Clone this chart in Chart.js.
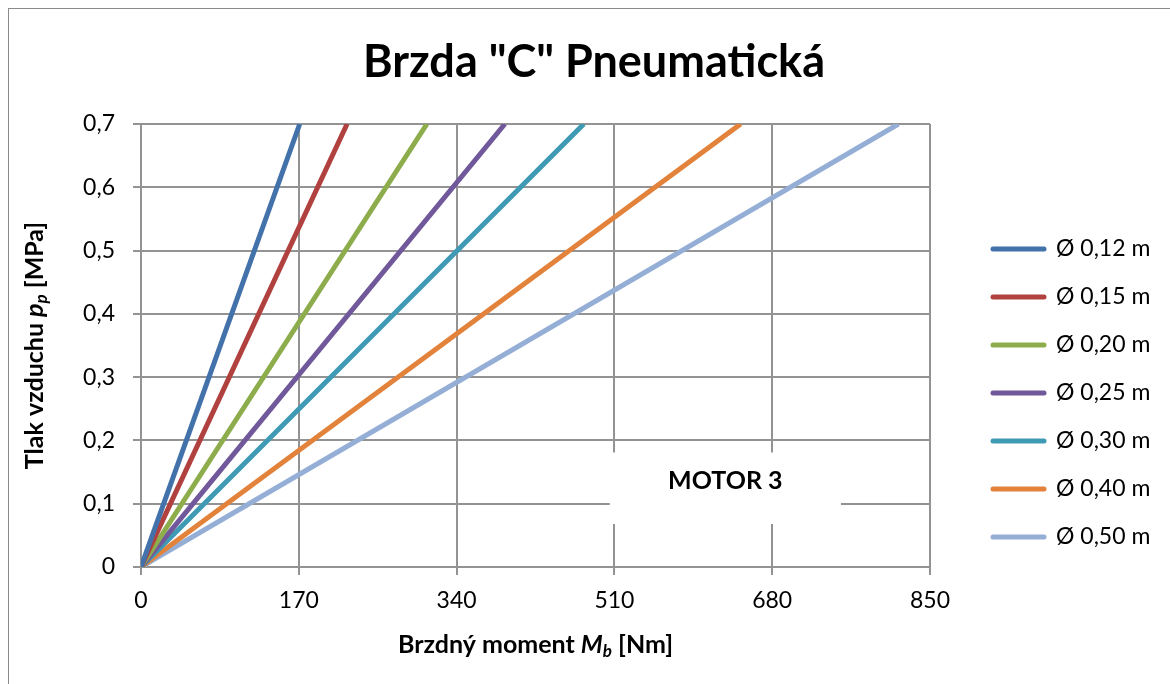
<!DOCTYPE html>
<html>
<head>
<meta charset="utf-8">
<script src="https://cdn.jsdelivr.net/npm/chart.js@4.4.0/dist/chart.umd.min.js"></script>
<style>
  html, body { margin:0; padding:0; background:#fff; }
  #wrap { position:relative; width:1170px; height:684px; }
</style>
</head>
<body>
<div id="wrap"><canvas id="chart"></canvas></div>
<script>
// Data (each line runs from the origin to p = 0,7 MPa)
const seriesLabels = ['Ø 0,12 m', 'Ø 0,15 m', 'Ø 0,20 m', 'Ø 0,25 m', 'Ø 0,30 m', 'Ø 0,40 m', 'Ø 0,50 m'];
const pressure = [0, 0.7];   // MPa
const mb012 = [0, 171];      // Nm
const mb015 = [0, 222];
const mb020 = [0, 308];
const mb025 = [0, 392];
const mb030 = [0, 477];
const mb040 = [0, 646];
const mb050 = [0, 816];
const xTicks = [0, 170, 340, 510, 680, 850];
const yTicks = [0, 0.1, 0.2, 0.3, 0.4, 0.5, 0.6, 0.7];

const torque = [mb012, mb015, mb020, mb025, mb030, mb040, mb050];
const COLORS = ['#4372ab', '#b0413e', '#8dad4c', '#71589a', '#3f9bb4', '#e2823b', '#94aed6'];
const GRID = '#939393';
const FAM = 'Lato, "Open Sans", sans-serif';

// note box, in data units
const note = { text: 'MOTOR 3', x0: 505, x1: 754, y0: 0.068, y1: 0.181 };

function richWidth(ctx, parts, size) {
  let w = 0;
  parts.forEach(p => {
    ctx.font = `${p.style} ${p.sub ? size * 0.68 : size}px ${FAM}`;
    w += ctx.measureText(p.t).width;
  });
  return w;
}
function drawRich(ctx, parts, cx, cy, size) {
  let x = cx - richWidth(ctx, parts, size) / 2;
  ctx.textAlign = 'left';
  ctx.textBaseline = 'middle';
  ctx.fillStyle = '#000';
  parts.forEach(p => {
    const s = p.sub ? size * 0.68 : size;
    ctx.font = `${p.style} ${s}px ${FAM}`;
    ctx.fillText(p.t, x, cy + (p.sub ? size * 0.28 : 0));
    x += ctx.measureText(p.t).width;
  });
}

const decor = {
  id: 'decor',
  beforeDraw(chart) {
    const ctx = chart.ctx;
    ctx.save();
    ctx.strokeStyle = '#8a8a8a';
    ctx.lineWidth = 1;
    ctx.strokeRect(8.5, 8.5, 1400, 900);
    ctx.restore();
  },
  beforeDatasetsDraw(chart) {
    const {ctx, scales: {x, y}} = chart;
    ctx.save();
    ctx.fillStyle = '#fff';
    const l = x.getPixelForValue(note.x0), r = x.getPixelForValue(note.x1);
    const t = y.getPixelForValue(note.y1), b = y.getPixelForValue(note.y0);
    ctx.fillRect(l, t, r - l, b - t);
    ctx.font = `bold 25px ${FAM}`;
    ctx.fillStyle = '#000';
    ctx.textAlign = 'center';
    ctx.textBaseline = 'middle';
    ctx.fillText(note.text, (l + r) / 2, t + 28);
    ctx.restore();
  },
  afterDraw(chart) {
    const ctx = chart.ctx;
    const area = chart.chartArea;
    ctx.save();
    // title
    ctx.font = `bold 45px ${FAM}`;
    ctx.fillStyle = '#000';
    ctx.textAlign = 'center';
    ctx.textBaseline = 'middle';
    ctx.fillText('Brzda "C" Pneumatická', 594, 62);

    // axis titles
    drawRich(ctx, [
      {t: 'Brzdný moment ', style: 'bold'},
      {t: 'M', style: 'italic bold'},
      {t: 'b', style: 'italic bold', sub: true},
      {t: ' [Nm]', style: 'bold'}
    ], (area.left + area.right) / 2, 645, 25);

    ctx.save();
    ctx.translate(35, (area.top + area.bottom) / 2);
    ctx.rotate(-Math.PI / 2);
    drawRich(ctx, [
      {t: 'Tlak vzduchu ', style: 'bold'},
      {t: 'p', style: 'italic bold'},
      {t: 'p', style: 'italic bold', sub: true},
      {t: ' [MPa]', style: 'bold'}
    ], 0, 0, 25);
    ctx.restore();

    // legend
    chart.data.datasets.forEach((ds, i) => {
      const yy = 249 + i * 48;
      ctx.strokeStyle = ds.borderColor;
      ctx.lineWidth = 5;
      ctx.lineCap = 'round';
      ctx.beginPath();
      ctx.moveTo(993, yy);
      ctx.lineTo(1044, yy);
      ctx.stroke();
      ctx.font = `23px ${FAM}`;
      ctx.fillStyle = '#000';
      ctx.textAlign = 'left';
      ctx.textBaseline = 'middle';
      ctx.fillText(ds.label, 1056, yy);
    });
    ctx.restore();
  }
};

new Chart(document.getElementById('chart'), {
  type: 'line',
  data: {
    datasets: torque.map((mb, i) => ({
      label: seriesLabels[i],
      data: mb.map((v, k) => ({ x: v, y: pressure[k] })),
      borderColor: COLORS[i],
      backgroundColor: COLORS[i],
      borderWidth: 5,
      pointRadius: 0,
      tension: 0,
      fill: false
    }))
  },
  options: {
    responsive: true,
    maintainAspectRatio: false,
    animation: false,
    layout: { padding: { left: 0, right: 240, top: 124, bottom: 0 } },
    plugins: { legend: { display: false }, title: { display: false }, tooltip: { enabled: false } },
    scales: {
      x: {
        type: 'linear', min: 0, max: 850,
        afterBuildTicks: s => { s.ticks = xTicks.map(v => ({ value: v })); },
        afterFit: s => { s.height = 117; },
        grid: { color: GRID, lineWidth: 2, tickLength: 8 },
        border: { color: GRID, width: 2 },
        ticks: { color: '#000', font: { family: FAM, size: 23 }, padding: 12, maxRotation: 0 }
      },
      y: {
        type: 'linear', min: 0, max: 0.7,
        afterBuildTicks: s => { s.ticks = yTicks.map(v => ({ value: v })); },
        afterFit: s => { s.width = 141; },
        grid: { color: GRID, lineWidth: 2, tickLength: 8 },
        border: { color: GRID, width: 2 },
        ticks: { color: '#000', font: { family: FAM, size: 23 }, padding: 18,
                 callback: v => v === 0 ? '0' : v.toFixed(1).replace('.', ',') }
      }
    }
  },
  plugins: [decor]
});
</script>
</body>
</html>
